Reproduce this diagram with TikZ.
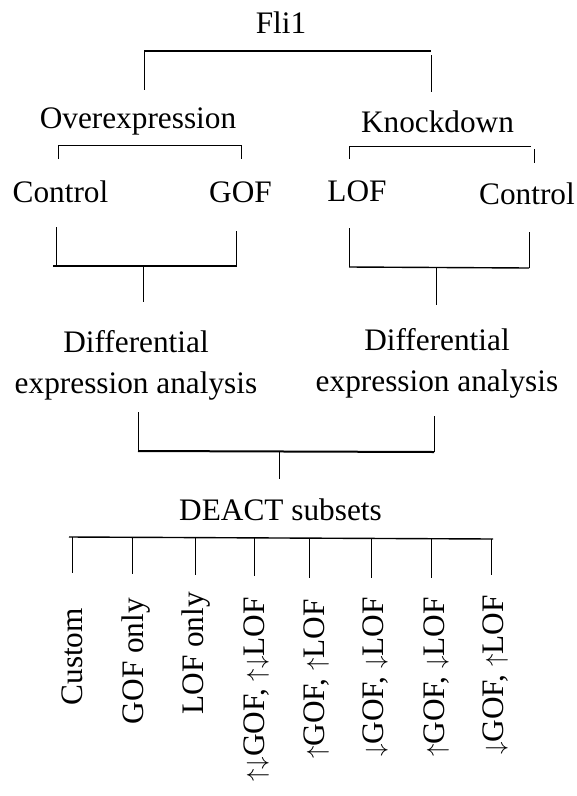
\documentclass[tikz,border=0pt]{standalone}
\usepackage{fontspec}
\setmainfont{Liberation Serif}
\newcommand{\upar}{$\uparrow$}
\newcommand{\dnar}{$\downarrow$}
\begin{document}
\begin{tikzpicture}[x=1pt,y=-1pt,
  lbl/.style={inner sep=0pt,outer sep=0pt,font=\fontsize{31.3}{41}\selectfont,anchor=base},
  sub/.style={lbl,rotate=90,anchor=base east},
  thinline/.style={line width=1pt,black},
  thickline/.style={line width=2pt,black},
  midline/.style={line width=1.4pt,black}]
\useasboundingbox (0,0) rectangle (577,796);

% ---- text nodes ----
\node[lbl] (fli) at (281,33) {Fli1};
\node[lbl] (over) at (138,128) {Overexpression};
\node[lbl] (knock) at (437.5,132) {Knockdown};
\node[lbl] (ctrlL) at (60.5,202) {Control};
\node[lbl] (gof) at (240.5,202) {GOF};
\node[lbl] (lof) at (357,201) {LOF};
\node[lbl] (ctrlR) at (527,204) {Control};
\node[lbl,align=center] (deaL) at (136,393) {Differential\\expression analysis};
\node[lbl,align=center] (deaR) at (437,391) {Differential\\expression analysis};
\node[lbl] (deact) at (280.5,520) {DEACT subsets};

\node[sub] (s1) at (82,608) {Custom};
\node[sub] (s2) at (143,598) {GOF only};
\node[sub] (s3) at (203,592) {LOF only};
\node[sub] (s4) at (264,597) {\upar\dnar GOF, \upar\dnar LOF};
\node[sub] (s5) at (324,599) {\upar GOF, \upar LOF};
\node[sub] (s6) at (383,597) {\dnar GOF, \dnar LOF};
\node[sub] (s7) at (444,597) {\upar GOF, \dnar LOF};
\node[sub] (s8) at (503,595) {\dnar GOF, \upar LOF};

% ---- bracket coordinates ----
% Fli1 -> Overexpression / Knockdown
\coordinate (t-l) at (144,51);
\coordinate (t-r) at (431,51);
\coordinate (t-lb) at (144,90);
\coordinate (t-rt) at (431,55);
\coordinate (t-rb) at (431,92);
% Overexpression -> Control / GOF
\coordinate (o-l) at (58,145);
\coordinate (o-r) at (241,145);
\coordinate (o-lb) at (58,159);
\coordinate (o-rb) at (241,159);
% Knockdown -> LOF / Control
\coordinate (k-l) at (349,146);
\coordinate (k-r) at (531,146);
\coordinate (k-lb) at (349,159);
\coordinate (k-rt) at (534,149);
\coordinate (k-rb) at (534,163);
% Control / GOF -> DEA left
\coordinate (a-lt) at (56,227);
\coordinate (a-lb) at (56,266);
\coordinate (a-rt) at (236,231);
\coordinate (a-rb) at (236,267);
\coordinate (a-h1) at (53,266);
\coordinate (a-h2) at (236,266);
\coordinate (a-s1) at (143,266);
\coordinate (a-s2) at (143,302);
% LOF / Control -> DEA right
\coordinate (b-lt) at (349,228);
\coordinate (b-lb) at (349,267);
\coordinate (b-rt) at (529,232);
\coordinate (b-rb) at (529,268);
\coordinate (b-s1) at (436,267);
\coordinate (b-s2) at (436,305);
% DEA -> DEACT subsets
\coordinate (c-lt) at (138,412);
\coordinate (c-lb) at (138,451);
\coordinate (c-rt) at (434,416);
\coordinate (c-rb) at (434,452);
\coordinate (c-s1) at (279,451);
\coordinate (c-s2) at (279,479);
% DEACT subsets -> subsets
\coordinate (d-l) at (69,537);
\coordinate (d-r) at (493,539);
\foreach \i/\x/\yt/\yb in {1/72/537/573, 2/132/537/574, 3/195/538/575, 4/254/538/576,
                           5/309/538/578, 6/371/538/578, 7/431/539/578, 8/491/539/575}{
  \coordinate (d\i t) at (\x,\yt);
  \coordinate (d\i b) at (\x,\yb);
}

% ---- connectors ----
\draw[thickline] (t-l) -- (t-r);
\draw[thinline] (t-l) -- (t-lb);
\draw[thinline] (t-rt) -- (t-rb);

\draw[thinline] (o-lb) -- (o-l) -- (o-r) -- (o-rb);
\draw[thinline] (k-lb) -- (k-l) -- (k-r);
\draw[thinline] (k-rt) -- (k-rb);

\draw[thinline] (a-lt) -- (a-lb);
\draw[thinline] (a-rt) -- (a-rb);
\draw[thickline] (a-h1) -- (a-h2);
\draw[thinline] (a-s1) -- (a-s2);

\draw[thinline] (b-lt) -- (b-lb);
\draw[thinline] (b-rt) -- (b-rb);
\draw[midline] (b-lb) -- (b-rb);
\draw[thinline] (b-s1) -- (b-s2);

\draw[thinline] (c-lt) -- (c-lb);
\draw[thinline] (c-rt) -- (c-rb);
\draw[thickline] (c-lb) -- (c-rb);
\draw[thinline] (c-s1) -- (c-s2);

\draw[midline] (d-l) -- (d-r);
\foreach \i in {1,...,8}{
  \draw[thinline] (d\i t) -- (d\i b);
}
\end{tikzpicture}
\end{document}
